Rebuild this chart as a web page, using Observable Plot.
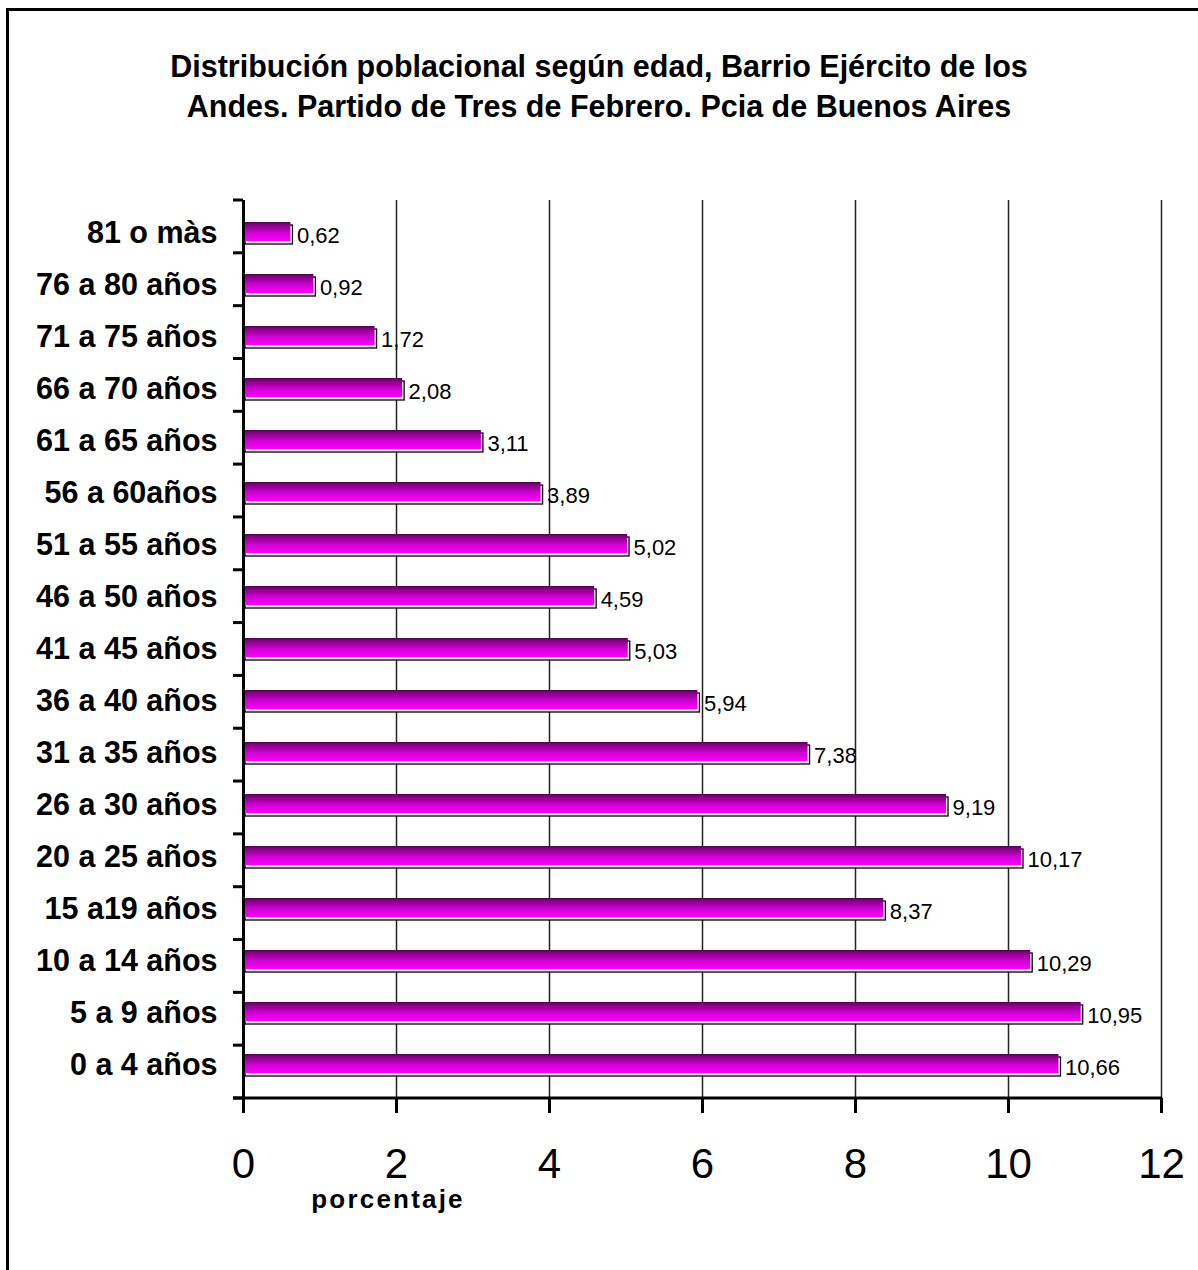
<!DOCTYPE html>
<html>
<head>
<meta charset="utf-8">
<script src="https://cdn.jsdelivr.net/npm/d3@7"></script>
<script src="https://cdn.jsdelivr.net/npm/@observablehq/plot@0.6"></script>
<style>
  html, body { margin: 0; padding: 0; background: #fff; }
  #wrap { position: relative; width: 1198px; height: 1270px; overflow: hidden; font-family: "Liberation Sans", Arial, sans-serif; color: #000; }
  #border { position: absolute; left: 6px; top: 8px; width: 1300px; height: 1400px; border: 3px solid #000; box-sizing: border-box; }
  #title { position: absolute; left: 0; top: 46px; width: 1198px; text-align: center; font-weight: bold; font-size: 30.5px; line-height: 40px; }
  #xlabel { position: absolute; left: 238px; width: 300px; top: 1184px; text-align: center; font-weight: bold; font-size: 26px; line-height: 30px; letter-spacing: 2.2px; }
  #chart { position: absolute; left: 0; top: 0; }
</style>
</head>
<body>
<div id="wrap">
  <div id="border"></div>
  <div id="chart"></div>
  <div id="title">Distribución poblacional según edad, Barrio Ejército de los<br>Andes. Partido de Tres de Febrero. Pcia de Buenos Aires</div>
  <div id="xlabel">porcentaje</div>
</div>
<script>
const categories = ["81 o màs","76 a 80 años","71 a 75 años","66 a 70 años","61 a 65 años","56 a 60años","51 a 55 años","46 a 50 años","41 a 45 años","36 a 40 años","31 a 35 años","26 a 30 años","20 a 25 años","15 a19 años","10 a 14 años","5 a 9 años","0 a 4 años"];
const values = [0.62,0.92,1.72,2.08,3.11,3.89,5.02,4.59,5.03,5.94,7.38,9.19,10.17,8.37,10.29,10.95,10.66];
const xTicks = [0,2,4,6,8,10,12];
const gridTicks = [2,4,6,8,10];

const data = categories.map((c, i) => ({cat: c, v: values[i]}));
const fmt = v => v.toFixed(2).replace(".", ",");

const plot = Plot.plot({
  width: 1198,
  height: 1270,
  marginTop: 200,
  marginBottom: 172,
  marginLeft: 243,
  marginRight: 37,
  style: {fontFamily: "'Liberation Sans', Arial, sans-serif", color: "#000", background: "transparent", overflow: "visible"},
  x: {domain: [0, 12]},
  y: {domain: categories, padding: 0},
  marks: [
    Plot.gridX({ticks: gridTicks, stroke: "#222", strokeOpacity: 1, strokeWidth: 1.5}),
    Plot.ruleX([12], {stroke: "#222", strokeWidth: 1.5}),
    Plot.barX(data, {x: "v", y: "cat", fill: "white", stroke: "black", strokeWidth: 1.3, dx: 2, dy: 3, insetTop: 15, insetBottom: 18}),
    Plot.barX(data, {x: "v", y: "cat", fill: "url(#barGrad)", insetTop: 15, insetBottom: 18}),
    Plot.text(data, {x: "v", y: "cat", text: d => fmt(d.v), textAnchor: "start", dx: 6, dy: 2, fontSize: 22, fill: "black"}),
    Plot.ruleX([0], {stroke: "black", strokeWidth: 3}),
    Plot.axisX({ticks: xTicks, tickSize: 15, tickPadding: 35, fontSize: 42, strokeWidth: 3, tickFormat: d => String(d), label: null}),
    Plot.axisY({tickSize: 0, tickPadding: 26, fontSize: 30.5, fontWeight: "bold", label: null})
  ]
});

document.getElementById("chart").appendChild(plot);

// gradient definition + structural lines from the plot's scales
const svg = d3.select(plot);
const defs = svg.insert("defs", ":first-child");
const g = defs.append("linearGradient").attr("id", "barGrad").attr("x1", 0).attr("y1", 0).attr("x2", 0).attr("y2", 1);
g.append("stop").attr("offset", "0%").attr("stop-color", "#500050");
g.append("stop").attr("offset", "12%").attr("stop-color", "#800080");
g.append("stop").attr("offset", "55%").attr("stop-color", "#d000d4");
g.append("stop").attr("offset", "100%").attr("stop-color", "#ff00ff");

const ys = plot.scale("y");
const xs = plot.scale("x");
const [y0, y1] = [Math.min(...ys.range), Math.max(...ys.range)];
const step = (y1 - y0) / categories.length;
const x0 = xs.apply(0), x12 = xs.apply(12);
const lines = svg.append("g").attr("stroke", "black").attr("stroke-width", 3);
for (let i = 0; i <= categories.length; i++) {
  const yy = y0 + i * step;
  lines.append("line").attr("x1", x0 - 10).attr("x2", x0).attr("y1", yy).attr("y2", yy);
}
lines.append("line").attr("x1", x0 - 10).attr("x2", x12 + 1).attr("y1", y1).attr("y2", y1);
</script>
</body>
</html>
